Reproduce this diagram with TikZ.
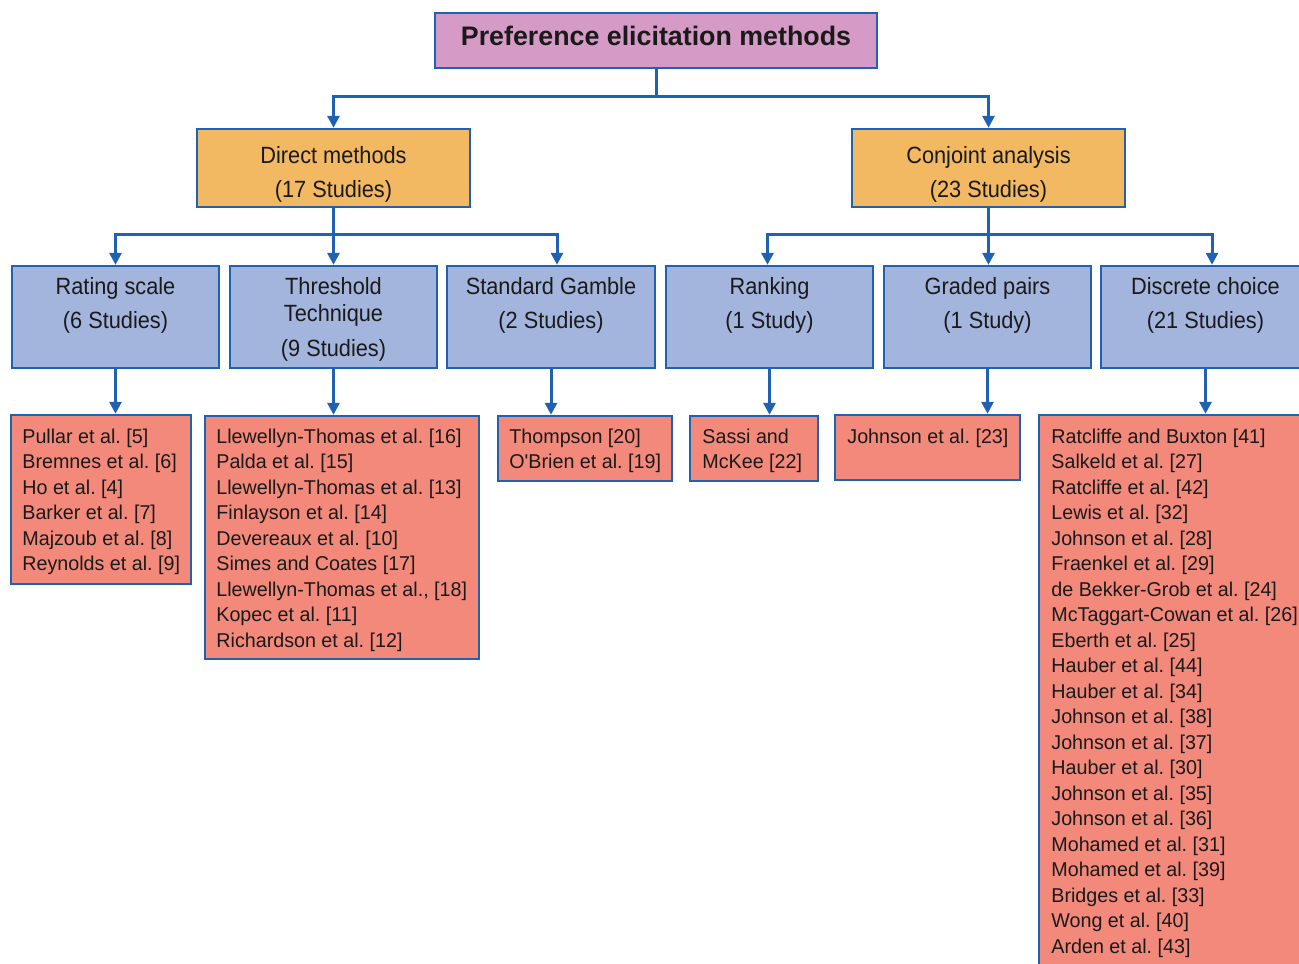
\documentclass[tikz,border=0pt]{standalone}
\usepackage{fontspec}
\setmainfont{Liberation Sans}
\newfontfamily\blfont{Liberation Sans}[FakeStretch=0.925]
\newfontfamily\pkfont{Liberation Sans}[FakeStretch=0.985]
\usetikzlibrary{fit,arrows.meta}
\definecolor{lineblue}{HTML}{1F62B4}
\definecolor{titlepink}{HTML}{D69AC7}
\definecolor{orangefill}{HTML}{F2B862}
\definecolor{bluefill}{HTML}{A3B4DD}
\definecolor{salmon}{HTML}{F3897B}
\definecolor{txt}{HTML}{1A1A1A}
\frenchspacing
\begin{document}
\begin{tikzpicture}[x=0.5pt,y=-0.5pt,
 boxbase/.style={draw=lineblue,line width=1.2pt,inner sep=0pt},
 titlebox/.style={boxbase,fill=titlepink},
 groupbox/.style={boxbase,fill=orangefill},
 methodbox/.style={boxbase,fill=bluefill},
 refbox/.style={boxbase,fill=salmon},
 titletext/.style={inner sep=0pt,text=txt,font=\bfseries\fontsize{13.4pt}{16pt}\selectfont,anchor=base},
 midtext/.style={inner sep=0pt,text=txt,align=center,font=\frenchspacing\blfont\fontsize{11.75pt}{17pt}\selectfont,anchor=base},
 reftext/.style={inner sep=0pt,text=txt,align=left,font=\frenchspacing\pkfont\fontsize{10pt}{12.75pt}\selectfont,anchor=base west},
 conn/.style={draw=lineblue,line width=1.5pt},
 arr/.style={conn,-{Triangle[width=6pt,length=6pt]}}
]
\useasboundingbox (0,0) rectangle (1299,963);
\clip (0,0) rectangle (1299,963);

% level 0
\node[titlebox,fit={(435,13)(877,68)}] (top) {};
\node[titletext] (toptext) at (656,46) {Preference elicitation methods};

% level 1 (anchor = baseline of last line)
\node[groupbox,fit={(197,129)(470,207)}] (dm) {};
\node[midtext] (dmtext) at (333.5,197.5) {Direct methods\\(17 Studies)};
\node[groupbox,fit={(852,129)(1125,207)}] (ca) {};
\node[midtext] (catext) at (988.5,197.5) {Conjoint analysis\\(23 Studies)};

% level 2
\node[methodbox,fit={(12,266)(219,368)}] (rs) {};
\node[midtext] (rstext) at (115.5,328) {Rating scale\\(6 Studies)};
\node[methodbox,fit={(230,266)(437,368)}] (th) {};
\node[midtext,font=\frenchspacing\blfont\fontsize{11.75pt}{13.75pt}\selectfont] (thtext) at (333.5,356) {Threshold\\Technique\\[3.5pt](9 Studies)};
\node[methodbox,fit={(447,266)(655,368)}] (sg) {};
\node[midtext] (sgtext) at (551,328) {Standard Gamble\\(2 Studies)};
\node[methodbox,fit={(666,266)(873,368)}] (rk) {};
\node[midtext] (rktext) at (769.5,328) {Ranking\\(1 Study)};
\node[methodbox,fit={(884,266)(1091,368)}] (gp) {};
\node[midtext] (gptext) at (987.5,328) {Graded pairs\\(1 Study)};
\node[methodbox,fit={(1101,266)(1310,368)}] (dc) {};
\node[midtext] (dctext) at (1205.5,328) {Discrete choice\\(21 Studies)};

% level 3 (anchor = baseline of last line)
\node[refbox,fit={(11,415)(191,584)}] (p1) {};
\node[reftext] (p1text) at (22,570.5) {Pullar et al. [5]\\Bremnes et al. [6]\\Ho et al. [4]\\Barker et al. [7]\\Majzoub et al. [8]\\Reynolds et al. [9]};
\node[refbox,fit={(205,416)(479,659)}] (p2) {};
\node[reftext] (p2text) at (216,647) {Llewellyn-Thomas et al. [16]\\Palda et al. [15]\\Llewellyn-Thomas et al. [13]\\Finlayson et al. [14]\\Devereaux et al. [10]\\Simes and Coates [17]\\Llewellyn-Thomas et al., [18]\\Kopec et al. [11]\\Richardson et al. [12]};
\node[refbox,fit={(498,416)(672,481)}] (p3) {};
\node[reftext] (p3text) at (509,468.5) {Thompson [20]\\O'Brien et al. [19]};
\node[refbox,fit={(690,416)(818,481)}] (p4) {};
\node[reftext] (p4text) at (702,468.5) {Sassi and\\McKee [22]};
\node[refbox,fit={(835,415)(1020,480)}] (p5) {};
\node[reftext] (p5text) at (847,443) {Johnson et al. [23]};
\node[refbox,fit={(1039,415)(1310,975)}] (p6) {};
\node[reftext] (p6text) at (1051,953) {Ratcliffe and Buxton [41]\\Salkeld et al. [27]\\Ratcliffe et al. [42]\\Lewis et al. [32]\\Johnson et al. [28]\\Fraenkel et al. [29]\\de Bekker-Grob et al. [24]\\McTaggart-Cowan et al. [26]\\Eberth et al. [25]\\Hauber et al. [44]\\Hauber et al. [34]\\Johnson et al. [38]\\Johnson et al. [37]\\Hauber et al. [30]\\Johnson et al. [35]\\Johnson et al. [36]\\Mohamed et al. [31]\\Mohamed et al. [39]\\Bridges et al. [33]\\Wong et al. [40]\\Arden et al. [43]};

% connectors level 0 -> 1
\path (top.south) ++(0,27) coordinate (bus0);
\draw[conn] (top.south) -- (bus0);
\draw[arr] (bus0) -| (dm.north);
\draw[arr] (bus0) -| (ca.north);

% connectors level 1 -> 2
\path (dm.south) ++(0,26) coordinate (bus1);
\draw[arr] (dm.south) -- (th.north);
\draw[arr] (bus1) -| (rs.north);
\draw[arr] (bus1) -| ([xshift=3pt]sg.north);
\path (ca.south) ++(0,26) coordinate (bus2);
\draw[arr] (ca.south) -- (ca.south |- gp.north);
\draw[arr] (bus2) -| ([xshift=-1pt]rk.north);
\draw[arr] (bus2) -| ([xshift=3.25pt]dc.north);

% connectors level 2 -> 3
\draw[arr] (rs.south) -- (rs.south |- p1.north);
\draw[arr] (th.south) -- (th.south |- p2.north);
\draw[arr] (sg.south) -- (sg.south |- p3.north);
\draw[arr] (rk.south) -- (rk.south |- p4.north);
\draw[arr] (gp.south) -- (gp.south |- p5.north);
\draw[arr] (dc.south) -- (dc.south |- p6.north);
\end{tikzpicture}
\end{document}
